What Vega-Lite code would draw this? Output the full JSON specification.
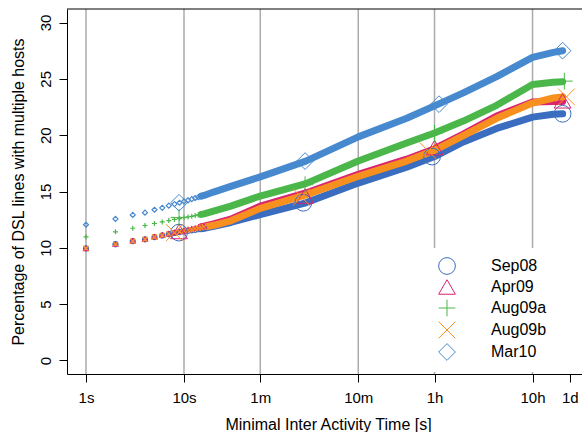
{
"$schema": "https://vega.github.io/schema/vega-lite/v6.json",
"width": 515, "height": 365,
"autosize": {"type": "none"},
"padding": {"left": 67, "top": 9, "right": 0, "bottom": 58},
"background": "white",
"config": {
 "view": {"stroke": null},
 "font": "Liberation Sans",
 "axis": {"labelFont": "Liberation Sans", "titleFont": "Liberation Sans", "labelColor": "black", "titleColor": "black", "tickColor": "black", "domainColor": "black", "labelFontSize": 15, "titleFontSize": 16, "titleFontWeight": "normal", "grid": false, "tickSize": 8, "domainWidth": 1, "tickWidth": 1},
 "legend": {"fillColor": "white", "padding": 9, "symbolSize": 280, "symbolStrokeWidth": 1, "symbolOpacity": 1, "labelFont": "Liberation Sans", "labelFontSize": 16, "labelColor": "black", "labelOffset": 35, "rowPadding": 0}
},
"resolve": {"legend": {"color": "independent", "shape": "independent", "stroke": "independent", "strokeWidth": "independent"}},
"datasets": {
 "grid": [{"g": 1}, {"g": 10}, {"g": 60}, {"g": 600}, {"g": 3600}, {"g": 36000}],
 "curves": [
  {"s":"Sep08","t":1,"v":9.95},{"s":"Sep08","t":2,"v":10.32},{"s":"Sep08","t":3,"v":10.6},{"s":"Sep08","t":4,"v":10.75},{"s":"Sep08","t":5,"v":10.95},{"s":"Sep08","t":6,"v":11.1},{"s":"Sep08","t":7,"v":11.22},{"s":"Sep08","t":8,"v":11.32},{"s":"Sep08","t":9,"v":11.4},{"s":"Sep08","t":10,"v":11.45},{"s":"Sep08","t":11,"v":11.5},{"s":"Sep08","t":12,"v":11.55},{"s":"Sep08","t":13,"v":11.6},{"s":"Sep08","t":14,"v":11.65},{"s":"Sep08","t":15,"v":11.7},{"s":"Sep08","t":16,"v":11.74},
  {"s":"Sep08","t":20,"v":11.9},{"s":"Sep08","t":30,"v":12.25},{"s":"Sep08","t":60,"v":12.95},{"s":"Sep08","t":175,"v":14.0},{"s":"Sep08","t":600,"v":15.75},{"s":"Sep08","t":1873,"v":17.15},{"s":"Sep08","t":3600,"v":18.1},{"s":"Sep08","t":7080,"v":19.4},{"s":"Sep08","t":15500,"v":20.6},{"s":"Sep08","t":36000,"v":21.6},{"s":"Sep08","t":58700,"v":21.85},{"s":"Sep08","t":73000,"v":21.9},
  {"s":"Apr09","t":1,"v":9.95},{"s":"Apr09","t":2,"v":10.34},{"s":"Apr09","t":3,"v":10.62},{"s":"Apr09","t":4,"v":10.78},{"s":"Apr09","t":5,"v":10.98},{"s":"Apr09","t":6,"v":11.13},{"s":"Apr09","t":7,"v":11.26},{"s":"Apr09","t":8,"v":11.36},{"s":"Apr09","t":9,"v":11.45},{"s":"Apr09","t":10,"v":11.55},{"s":"Apr09","t":11,"v":11.62},{"s":"Apr09","t":12,"v":11.69},{"s":"Apr09","t":13,"v":11.75},{"s":"Apr09","t":14,"v":11.81},{"s":"Apr09","t":15,"v":11.87},{"s":"Apr09","t":16,"v":11.92},
  {"s":"Apr09","t":20,"v":12.12},{"s":"Apr09","t":30,"v":12.55},{"s":"Apr09","t":60,"v":13.7},{"s":"Apr09","t":175,"v":14.87},{"s":"Apr09","t":600,"v":16.52},{"s":"Apr09","t":1873,"v":17.87},{"s":"Apr09","t":3600,"v":18.8},{"s":"Apr09","t":7080,"v":20.1},{"s":"Apr09","t":15500,"v":21.7},{"s":"Apr09","t":36000,"v":22.95},{"s":"Apr09","t":58700,"v":23.0},{"s":"Apr09","t":73000,"v":23.0},
  {"s":"Aug09a","t":1,"v":10.97},{"s":"Aug09a","t":2,"v":11.42},{"s":"Aug09a","t":3,"v":11.74},{"s":"Aug09a","t":4,"v":11.98},{"s":"Aug09a","t":5,"v":12.16},{"s":"Aug09a","t":6,"v":12.3},{"s":"Aug09a","t":7,"v":12.42},{"s":"Aug09a","t":8,"v":12.52},{"s":"Aug09a","t":9,"v":12.6},{"s":"Aug09a","t":10,"v":12.67},{"s":"Aug09a","t":11,"v":12.74},{"s":"Aug09a","t":12,"v":12.8},{"s":"Aug09a","t":13,"v":12.86},{"s":"Aug09a","t":14,"v":12.92},{"s":"Aug09a","t":15,"v":12.97},{"s":"Aug09a","t":16,"v":13.02},
  {"s":"Aug09a","t":20,"v":13.25},{"s":"Aug09a","t":30,"v":13.7},{"s":"Aug09a","t":60,"v":14.6},{"s":"Aug09a","t":175,"v":15.7},{"s":"Aug09a","t":600,"v":17.7},{"s":"Aug09a","t":1873,"v":19.3},{"s":"Aug09a","t":3600,"v":20.2},{"s":"Aug09a","t":7080,"v":21.25},{"s":"Aug09a","t":15500,"v":22.65},{"s":"Aug09a","t":36000,"v":24.5},{"s":"Aug09a","t":58700,"v":24.7},{"s":"Aug09a","t":73000,"v":24.75},
  {"s":"Aug09b","t":1,"v":9.97},{"s":"Aug09b","t":2,"v":10.33},{"s":"Aug09b","t":3,"v":10.6},{"s":"Aug09b","t":4,"v":10.76},{"s":"Aug09b","t":5,"v":10.96},{"s":"Aug09b","t":6,"v":11.11},{"s":"Aug09b","t":7,"v":11.24},{"s":"Aug09b","t":8,"v":11.34},{"s":"Aug09b","t":9,"v":11.42},{"s":"Aug09b","t":10,"v":11.5},{"s":"Aug09b","t":11,"v":11.57},{"s":"Aug09b","t":12,"v":11.63},{"s":"Aug09b","t":13,"v":11.69},{"s":"Aug09b","t":14,"v":11.74},{"s":"Aug09b","t":15,"v":11.79},{"s":"Aug09b","t":16,"v":11.84},
  {"s":"Aug09b","t":20,"v":12.0},{"s":"Aug09b","t":30,"v":12.4},{"s":"Aug09b","t":60,"v":13.5},{"s":"Aug09b","t":175,"v":14.7},{"s":"Aug09b","t":600,"v":16.35},{"s":"Aug09b","t":1873,"v":17.7},{"s":"Aug09b","t":3600,"v":18.65},{"s":"Aug09b","t":7080,"v":19.95},{"s":"Aug09b","t":15500,"v":21.5},{"s":"Aug09b","t":36000,"v":22.85},{"s":"Aug09b","t":58700,"v":23.3},{"s":"Aug09b","t":73000,"v":23.4},
  {"s":"Mar10","t":1,"v":12.05},{"s":"Mar10","t":2,"v":12.57},{"s":"Mar10","t":3,"v":12.92},{"s":"Mar10","t":4,"v":13.12},{"s":"Mar10","t":5,"v":13.38},{"s":"Mar10","t":6,"v":13.55},{"s":"Mar10","t":7,"v":13.74},{"s":"Mar10","t":8,"v":13.88},{"s":"Mar10","t":9,"v":14.0},{"s":"Mar10","t":10,"v":14.12},{"s":"Mar10","t":11,"v":14.22},{"s":"Mar10","t":12,"v":14.32},{"s":"Mar10","t":13,"v":14.42},{"s":"Mar10","t":14,"v":14.5},{"s":"Mar10","t":15,"v":14.58},{"s":"Mar10","t":16,"v":14.65},
  {"s":"Mar10","t":20,"v":14.95},{"s":"Mar10","t":30,"v":15.45},{"s":"Mar10","t":60,"v":16.3},{"s":"Mar10","t":175,"v":17.7},{"s":"Mar10","t":600,"v":19.85},{"s":"Mar10","t":1873,"v":21.5},{"s":"Mar10","t":3600,"v":22.6},{"s":"Mar10","t":7080,"v":23.75},{"s":"Mar10","t":15500,"v":25.2},{"s":"Mar10","t":36000,"v":26.9},{"s":"Mar10","t":58700,"v":27.35},{"s":"Mar10","t":73000,"v":27.5}
 ],
 "marks": [
  {"s":"Sep08","t":8.9,"v":11.35},{"s":"Sep08","t":165,"v":14.0},{"s":"Sep08","t":3400,"v":18.1},{"s":"Sep08","t":73000,"v":21.9},
  {"s":"Apr09","t":8.9,"v":11.45},{"s":"Apr09","t":172,"v":14.6},{"s":"Apr09","t":3600,"v":18.9},{"s":"Apr09","t":73000,"v":23.05},
  {"s":"Aug09a","t":8.9,"v":12.7},{"s":"Aug09a","t":172,"v":15.6},{"s":"Aug09a","t":3600,"v":20.2},{"s":"Aug09a","t":76000,"v":24.8},
  {"s":"Aug09b","t":8.0,"v":11.35},{"s":"Aug09b","t":158,"v":14.5},{"s":"Aug09b","t":3100,"v":18.6},{"s":"Aug09b","t":80000,"v":23.4},
  {"s":"Mar10","t":8.9,"v":14.0},{"s":"Mar10","t":172,"v":17.7},{"s":"Mar10","t":4000,"v":22.75},{"s":"Mar10","t":73000,"v":27.5}
 ]
},
"layer": [
 {
  "data": {"name": "grid"},
  "mark": {"type": "rule", "color": "#ababab", "strokeWidth": 1.5},
  "encoding": {
   "x": {"field": "g", "type": "quantitative", "scale": {"type": "log", "domain": [0.64, 115130], "nice": false}}
  }
 },
 {
  "data": {"values": [{}]},
  "mark": {"type": "rule", "color": "black", "strokeWidth": 1},
  "encoding": {
   "y": {"datum": 31.2, "type": "quantitative"}
  }
 },
 {
  "data": {"name": "curves"},
  "transform": [{"filter": "datum.t >= 15"}],
  "mark": {"type": "line", "strokeCap": "round", "strokeJoin": "round"},
  "encoding": {
   "x": {"field": "t", "type": "quantitative", "scale": {"type": "log", "domain": [0.64, 115130], "nice": false},
     "axis": {"orient": "bottom", "values": [1, 10, 60, 600, 3600, 36000, 86400], "labelExpr": "datum.value == 1 ? '1s' : datum.value == 10 ? '10s' : datum.value == 60 ? '1m' : datum.value == 600 ? '10m' : datum.value == 3600 ? '1h' : datum.value == 36000 ? '10h' : '1d'", "title": "Minimal Inter Activity Time [s]", "labelBaseline": "alphabetic", "labelPadding": 20.7, "labelFlush": false, "labelOverlap": false, "titleBaseline": "alphabetic", "titleY": 55.5, "titleX": 261, "titleAnchor": "middle"}},
   "y": {"field": "v", "type": "quantitative", "scale": {"domain": [-1.2, 31.2], "nice": false, "zero": false},
     "axis": {"values": [0, 5, 10, 15, 20, 25, 30], "title": "Percentage of DSL lines with multiple hosts", "labelAngle": -90, "labelAlign": "center", "labelBaseline": "alphabetic", "labelPadding": 9, "titleBaseline": "alphabetic", "titleAngle": 270, "titleAlign": "center", "titleX": -43.8, "titleY": 182.5}},
   "stroke": {"field": "s", "type": "nominal", "scale": {"domain": ["Sep08", "Apr09", "Aug09a", "Aug09b", "Mar10"], "range": ["#3a6cbf", "#d9256f", "#4bb74a", "#f7901e", "#4689cf"]}, "legend": null},
   "strokeWidth": {"field": "s", "type": "nominal", "scale": {"domain": ["Sep08", "Apr09", "Aug09a", "Aug09b", "Mar10"], "range": [7, 7, 6, 8, 6]}, "legend": null}
  }
 },
 {
  "data": {"name": "curves"},
  "transform": [{"filter": "datum.t <= 16"}],
  "mark": {"type": "point", "filled": false, "size": 25, "strokeWidth": 1.2, "opacity": 1},
  "encoding": {
   "x": {"field": "t", "type": "quantitative"},
   "y": {"field": "v", "type": "quantitative"},
   "stroke": {"field": "s", "type": "nominal", "legend": null},
   "shape": {"field": "s", "type": "nominal", "scale": {"domain": ["Sep08", "Apr09", "Aug09a", "Aug09b", "Mar10"], "range": ["circle", "triangle-up", "M-1,0L1,0M0,-1L0,1", "M-1,-1L1,1M-1,1L1,-1", "diamond"]}, "legend": null}
  }
 },
 {
  "data": {"name": "marks"},
  "mark": {"type": "point", "filled": false, "size": 280, "strokeWidth": 1, "opacity": 1},
  "encoding": {
   "x": {"field": "t", "type": "quantitative"},
   "y": {"field": "v", "type": "quantitative"},
   "color": {"field": "s", "type": "nominal", "scale": {"domain": ["Sep08", "Apr09", "Aug09a", "Aug09b", "Mar10"], "range": ["#3a6cbf", "#d9256f", "#4bb74a", "#f7901e", "#4689cf"]}, "legend": {"title": null, "orient": "none", "legendX": 362, "legendY": 239}},
   "shape": {"field": "s", "type": "nominal", "legend": {"title": null, "orient": "none", "legendX": 362, "legendY": 239}}
  }
 }
]
}
